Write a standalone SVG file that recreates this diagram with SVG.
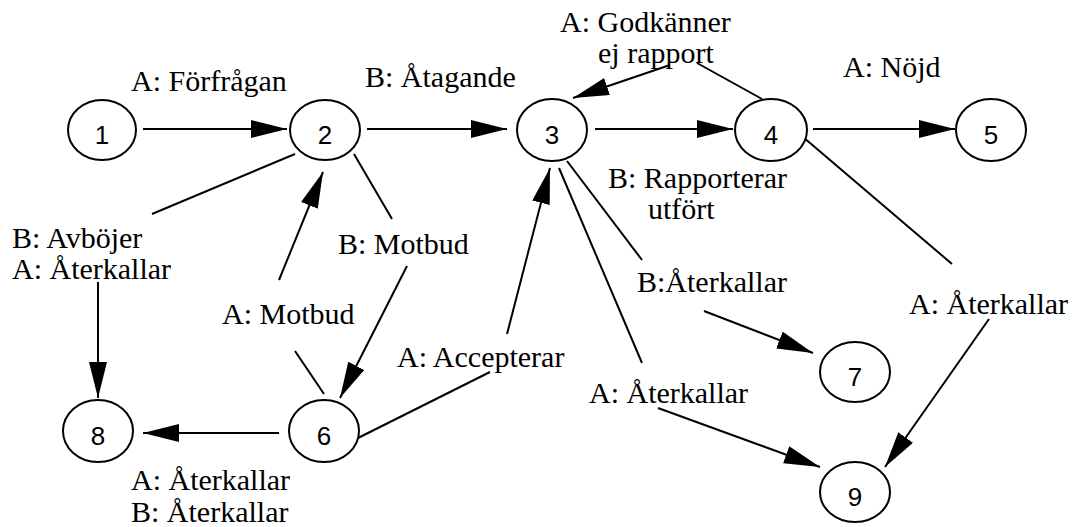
<svg xmlns="http://www.w3.org/2000/svg" width="1077" height="527" viewBox="0 0 1077 527">
  <style>
    .node ellipse { fill: #fff; stroke: #000; stroke-width: 2; }
    .node text { font-family: "Liberation Sans", Arial, sans-serif; font-size: 26px; text-anchor: middle; fill: #000; }
    .edges line { stroke: #000; stroke-width: 2; fill: none; }
    .lbl { font-family: "Liberation Serif", "Times New Roman", serif; font-size: 30px; fill: #000; }
  </style>
  <defs>
    <marker id="arrow" markerUnits="userSpaceOnUse" markerWidth="38" markerHeight="20" refX="36" refY="9" orient="auto">
      <path d="M0,0 L36,9 L0,18 z" fill="#000"/>
    </marker>
  </defs>
  <rect width="1077" height="527" fill="#fff"/>

  <!-- connectors -->
  <g id="connectors" class="edges">
    <line x1="143" y1="129" x2="287" y2="129" marker-end="url(#arrow)"/>
    <line x1="367" y1="129" x2="507" y2="129" marker-end="url(#arrow)"/>
    <line x1="595" y1="129" x2="733" y2="129" marker-end="url(#arrow)"/>
    <line x1="813" y1="129" x2="955" y2="129" marker-end="url(#arrow)"/>
    <!-- 4 -> 3 -->
    <line x1="762" y1="99" x2="697" y2="63"/>
    <line x1="670" y1="65" x2="573" y2="98" marker-end="url(#arrow)"/>
    <!-- 2 -> 8 -->
    <line x1="295" y1="154" x2="152" y2="214"/>
    <line x1="98" y1="282" x2="98" y2="398" marker-end="url(#arrow)"/>
    <!-- 6 -> 2 -->
    <line x1="324" y1="394" x2="295" y2="351"/>
    <line x1="279" y1="280" x2="323" y2="172" marker-end="url(#arrow)"/>
    <!-- 2 -> 6 -->
    <line x1="354" y1="154" x2="392" y2="219"/>
    <line x1="407" y1="266" x2="340" y2="398" marker-end="url(#arrow)"/>
    <!-- 6 -> 8 -->
    <line x1="279" y1="433" x2="143" y2="433" marker-end="url(#arrow)"/>
    <!-- 6 -> 3 -->
    <line x1="358" y1="438" x2="490" y2="372"/>
    <line x1="507" y1="334" x2="550" y2="168" marker-end="url(#arrow)"/>
    <!-- 3 -> 7 -->
    <line x1="567" y1="161" x2="642" y2="260"/>
    <line x1="704" y1="311" x2="813" y2="353" marker-end="url(#arrow)"/>
    <!-- 3 -> 9 -->
    <line x1="559" y1="168" x2="642" y2="363"/>
    <line x1="658" y1="408" x2="820" y2="467" marker-end="url(#arrow)"/>
    <!-- 4 -> 9 -->
    <line x1="803" y1="137" x2="952" y2="264"/>
    <line x1="989" y1="319" x2="885" y2="467" marker-end="url(#arrow)"/>
  </g>

  <!-- connector labels -->
  <g id="labels" class="lbl">
    <text x="131" y="91">A: Förfrågan</text>
    <text x="365" y="87">B: Åtagande</text>
    <text x="560" y="32">A: Godkänner</text>
    <text x="598" y="63">ej rapport</text>
    <text x="843" y="77">A: Nöjd</text>
    <text x="608" y="188">B: Rapporterar</text>
    <text x="648" y="219">utfört</text>
    <text x="12" y="248">B: Avböjer</text>
    <text x="12" y="279">A: Återkallar</text>
    <text x="338" y="254">B: Motbud</text>
    <text x="222" y="324">A: Motbud</text>
    <text x="397" y="367">A: Accepterar</text>
    <text x="637" y="292">B:Återkallar</text>
    <text x="589" y="403">A: Återkallar</text>
    <text x="909" y="314">A: Återkallar</text>
    <text x="131" y="490">A: Återkallar</text>
    <text x="131" y="522">B: Återkallar</text>
  </g>

  <!-- states -->
  <g id="n1" class="node"><ellipse cx="102" cy="130" rx="34" ry="30"/><text x="102" y="144">1</text></g>
  <g id="n2" class="node"><ellipse cx="325" cy="130" rx="35" ry="30"/><text x="325" y="144">2</text></g>
  <g id="n3" class="node"><ellipse cx="552" cy="130" rx="35" ry="31"/><text x="552" y="144">3</text></g>
  <g id="n4" class="node"><ellipse cx="771" cy="130" rx="36" ry="31"/><text x="771" y="144">4</text></g>
  <g id="n5" class="node"><ellipse cx="991" cy="130" rx="35" ry="31"/><text x="991" y="144">5</text></g>
  <g id="n6" class="node"><ellipse cx="324" cy="431" rx="35" ry="31"/><text x="324" y="445">6</text></g>
  <g id="n7" class="node"><ellipse cx="855" cy="372" rx="35" ry="30"/><text x="855" y="386">7</text></g>
  <g id="n8" class="node"><ellipse cx="98" cy="431" rx="35" ry="31"/><text x="98" y="445">8</text></g>
  <g id="n9" class="node"><ellipse cx="855" cy="492" rx="35" ry="30"/><text x="855" y="506">9</text></g>
</svg>
